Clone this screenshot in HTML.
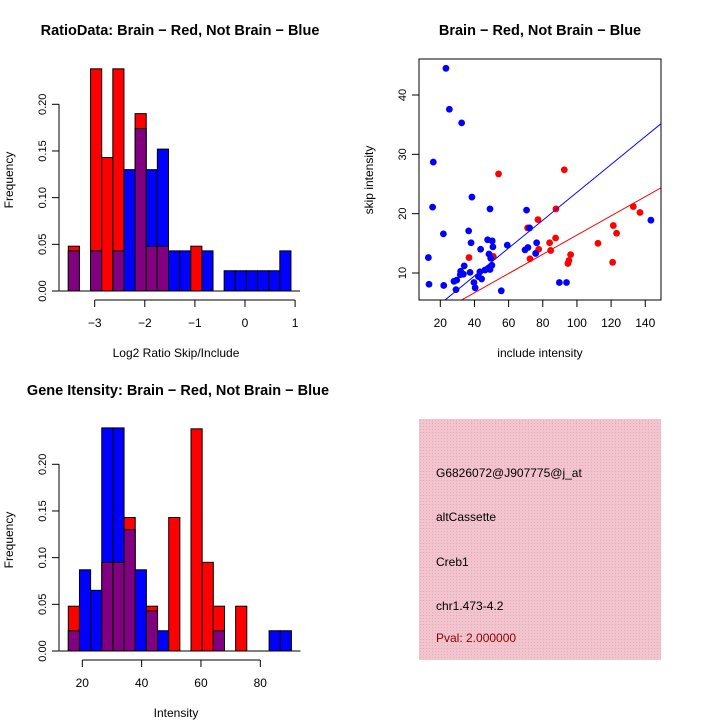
<!DOCTYPE html>
<html><head><meta charset="utf-8"><style>
body{margin:0;background:#fff}
svg{display:block;font-family:"Liberation Sans",sans-serif}
</style></head><body>
<svg id="s" width="720" height="720" xmlns="http://www.w3.org/2000/svg">
<defs><pattern id="hatch" width="3" height="3" patternUnits="userSpaceOnUse"><rect width="3" height="3" fill="#f2c4ce"/><rect width="1" height="1" fill="#e8a8b8"/></pattern></defs>
<g id="g1"></g>
<g id="g2"></g>
<g id="g3"></g>
<g id="g4">
<rect x="419" y="419" width="242" height="241" fill="url(#hatch)"/>
<text x="436" y="477" font-size="12">G6826072@J907775@j_at</text>
<text x="436" y="521" font-size="12">altCassette</text>
<text x="436" y="566" font-size="12">Creb1</text>
<text x="436" y="610" font-size="12">chr1.473-4.2</text>
<text x="436" y="642" font-size="12" fill="#8b0000">Pval: 2.000000</text>
</g>
</svg>
<script>
// Ratio histogram data
const ratioRed = [0.048,0,0.238,0.143,0.238,0,0.190,0.048,0.048,0,0,0.048,0,0,0,0,0,0,0,0];
const ratioBlue = [0.043,0,0.043,0,0.043,0.130,0.174,0.130,0.152,0.043,0.043,0,0.043,0,0.0217,0.0217,0.0217,0.0217,0.0217,0.043];
const ratioBinStart = -3.527, ratioBinWidth = 0.2222;
const ratioXTicks = [-3,-2,-1,0,1];
// Intensity histogram data
const intRed = [0.048,0,0,0.095,0.095,0.143,0,0.048,0,0.143,0,0.238,0.095,0.048,0,0.048,0,0,0,0];
const intBlue = [0.0217,0.087,0.065,0.239,0.239,0.130,0.087,0.043,0.0217,0,0,0,0,0.0217,0,0,0,0,0.0217,0.0217];
const intBinStart = 15.28, intBinWidth = 3.76;
const intXTicks = [20,40,60,80];
const freqTicks = [0,0.05,0.10,0.15,0.20];
const freqLabels = ["0.00","0.05","0.10","0.15","0.20"];
// Scatter data
const blueX = [23.3,25.3,32.5,15.9,15.5,13,13.4,21.8,22,38.5,36.6,38,49.1,47.7,50.4,50.8,43.6,59.2,70.5,72.3,71.3,69.6,76.4,75.8,89.7,93.9,143.3,55.7,40.4,39.7,44.2,42.3,43.2,37.4,34,31.9,31.7,29.6,28,29.2,33.5,46.2,48.1,49.1,49.5,50.2,48.5];
const blueY = [44.5,37.6,35.3,28.7,21.1,12.6,8.1,16.6,7.9,22.8,17.1,15.1,20.8,15.6,15.4,14.4,14,14.7,20.6,17.6,14.3,13.9,15.1,13.3,8.4,8.4,18.9,7,7.5,8.4,9,9.4,10.2,10.1,11.2,10.3,9.7,8.8,8.6,7.2,9.8,10.5,10.8,10.6,12.5,11.3,13.2];
const redX = [54.1,92.6,36.8,51,71.1,77.2,87.7,72.5,77.6,84,84.6,87.5,96.3,95.3,94.7,112.3,121.3,123.2,120.9,133,136.9];
const redY = [26.7,27.4,12.6,12.8,17.6,19,20.8,12.4,14,15.1,13.8,15.9,13.1,12.1,11.6,15,18,16.7,11.8,21.2,20.2];
const blueFit = [0.1,0.235];
const redFit = [0.19,0.162];
const scXTicks = [20,40,60,80,100,120,140];
const scYTicks = [10,20,30,40];

const NS="http://www.w3.org/2000/svg";
function mk(p,tag,a){const e=document.createElementNS(NS,tag);for(const k in a)e.setAttribute(k,a[k]);p.appendChild(e);return e;}
function txt(p,x,y,s,size,anchor,rot){const e=mk(p,'text',{x:x,y:y,'font-size':size,'text-anchor':anchor||'middle'});if(rot)e.setAttribute('transform','rotate(-90 '+x+' '+y+')');e.textContent=s;return e;}

function hist(gid,red,blue,start,w,xt,title,xlab,top,xs,xo,titleX){
  const g=document.getElementById(gid);
  const y0=top+241, ky=(top+241-(top+54.3))/0.20;
  const sx=v=>xo+(v-xt[0])*xs, sy=v=>y0-v*ky;
  for(let i=0;i<red.length;i++){
    const x1=sx(start+i*w), x2=sx(start+(i+1)*w);
    const r=red[i],b=blue[i];
    const mx=Math.max(r,b),mn=Math.min(r,b);
    if(mx>0){const e=mk(g,'rect',{x:x1,y:sy(mx),width:x2-x1,height:sy(0)-sy(mx),fill:r>=b?'#ff0000':'#0000ff',stroke:'#000','stroke-width':1});
      
      }
    if(mn>0){const e=mk(g,'rect',{x:x1,y:sy(mn),width:x2-x1,height:sy(0)-sy(mn),fill:'#800080',stroke:'#000','stroke-width':1});
      
      }
  }
  mk(g,'line',{x1:sx(start)-9,x2:sx(start+red.length*w)+9,y1:y0,y2:y0,stroke:'#000'});
  const ax=59;
  mk(g,'line',{x1:ax,x2:ax,y1:sy(0),y2:sy(0.2),stroke:'#000'});
  freqTicks.forEach((t,i)=>{mk(g,'line',{x1:ax-7,x2:ax,y1:sy(t),y2:sy(t),stroke:'#000'});txt(g,ax-13,sy(t),freqLabels[i],11,'middle',true);});
  const xa=top+250;
  mk(g,'line',{x1:sx(xt[0]),x2:sx(xt[xt.length-1]),y1:xa,y2:xa,stroke:'#000'});
  xt.forEach(t=>{mk(g,'line',{x1:sx(t),x2:sx(t),y1:xa,y2:xa+7,stroke:'#000'});txt(g,sx(t),xa+27,String(t).replace('-','\u2212'),12);});
  const t1=txt(g,titleX,top-15,title,14.5);t1.setAttribute('font-weight','bold');
  
  
  txt(g,176,top+307,xlab,12);
  txt(g,13,top+130,'Frequency',12,'middle',true);
}
hist('g1',ratioRed,ratioBlue,ratioBinStart,ratioBinWidth,ratioXTicks,'RatioData: Brain \u2212 Red, Not Brain \u2212 Blue','Log2 Ratio Skip/Include',50,50.1,94.7,180);
hist('g3',intRed,intBlue,intBinStart,intBinWidth,intXTicks,'Gene Itensity: Brain \u2212 Red, Not Brain \u2212 Blue','Intensity',410,2.967,82.3,178);

(function(){
  const g=document.getElementById('g2');
  const L=419,R=661,T=59,B=300;
  const sx=v=>440.3+(v-20)*1.708, sy=v=>273-(v-10)*5.933;
  const cp=mk(g,'clipPath',{id:'cp'});mk(cp,'rect',{x:L,y:T,width:R-L,height:B-T});
  const cl=mk(g,'g',{'clip-path':'url(#cp)'});
  for(let i=0;i<redX.length;i++){const c=mk(cl,'circle',{cx:sx(redX[i]),cy:sy(redY[i]),r:3.4,fill:'#ff0000'});
    
    }
  for(let i=0;i<blueX.length;i++){const c=mk(cl,'circle',{cx:sx(blueX[i]),cy:sy(blueY[i]),r:3.4,fill:'#0000ff'});
    
    }
  [[blueFit,'#0000ff'],[redFit,'#ff0000']].forEach(([f,c])=>{const l=mk(cl,'line',{x1:sx(0),y1:sy(f[0]),x2:sx(160),y2:sy(f[0]+f[1]*160),stroke:c,'stroke-width':1});
    
    });
  mk(g,'rect',{x:L,y:T,width:R-L,height:B-T,fill:'none',stroke:'#000'});
  scXTicks.forEach(t=>{mk(g,'line',{x1:sx(t),x2:sx(t),y1:B,y2:B+7,stroke:'#000'});txt(g,sx(t),B+27,String(t),12);});
  scYTicks.forEach(t=>{mk(g,'line',{x1:L-7,x2:L,y1:sy(t),y2:sy(t),stroke:'#000'});txt(g,L-13,sy(t),String(t),11,'middle',true);});
  const t1=txt(g,540,35,'Brain \u2212 Red, Not Brain \u2212 Blue',14.5);t1.setAttribute('font-weight','bold');
  
  
  txt(g,540,357,'include intensity',12);
  txt(g,373,180,'skip intensity',12,'middle',true);
})();
</script>
</body></html>
